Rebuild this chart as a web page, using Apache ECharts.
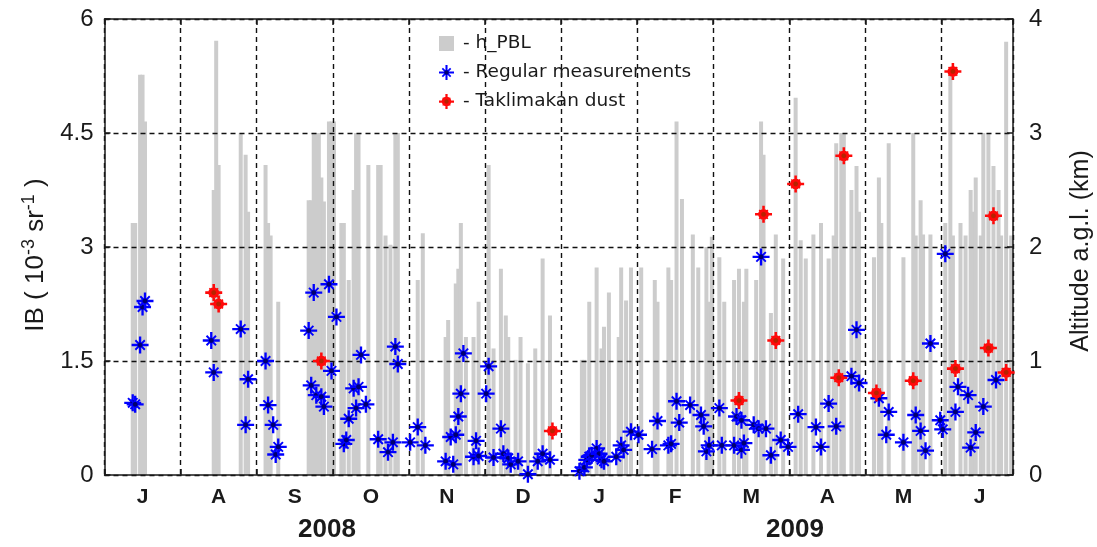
<!DOCTYPE html>
<html>
<head>
<meta charset="utf-8">
<script src="https://cdn.jsdelivr.net/npm/echarts/dist/echarts.min.js"></script>
<style>
  html, body { margin: 0; padding: 0; background: #fff; }
  #chart { width: 1097px; height: 547px; }
</style>
</head>
<body>
<div id="chart"></div>
<script>
// Month letters (Jul 2008 .. Jun 2009) and year captions
const monthLabels = ['J', 'A', 'S', 'O', 'N', 'D', 'J', 'F', 'M', 'A', 'M', 'J'];
const yearLabels = ['2008', '2009'];

// Planetary boundary layer height, km a.g.l.
const pblHeight = [
  ['2008-07-12', 2.21], ['2008-07-13', 2.21], ['2008-07-15', 3.51], ['2008-07-16', 3.51], ['2008-07-17', 3.10],
  ['2008-08-14', 2.50], ['2008-08-15', 3.81], ['2008-08-16', 2.72], ['2008-08-25', 3.00], ['2008-08-27', 2.81], ['2008-08-28', 2.31],
  ['2008-09-04', 2.72], ['2008-09-05', 2.21], ['2008-09-06', 2.10], ['2008-09-09', 1.52],
  ['2008-09-21', 2.41], ['2008-09-22', 2.41], ['2008-09-23', 3.00], ['2008-09-24', 3.00],
  ['2008-09-25', 3.00], ['2008-09-26', 2.61], ['2008-09-27', 2.40], ['2008-09-29', 3.10], ['2008-09-30', 3.10],
  ['2008-10-01', 3.10], ['2008-10-04', 2.21], ['2008-10-05', 2.21], ['2008-10-07', 1.71], ['2008-10-09', 2.50], ['2008-10-10', 3.00],
  ['2008-10-11', 3.00], ['2008-10-15', 2.72], ['2008-10-19', 2.72], ['2008-10-20', 2.72], ['2008-10-22', 2.10], ['2008-10-24', 2.02],
  ['2008-10-26', 3.00], ['2008-10-27', 3.00],
  ['2008-11-04', 1.71], ['2008-11-06', 2.12], ['2008-11-15', 1.21], ['2008-11-16', 1.36], ['2008-11-19', 1.68], ['2008-11-20', 1.81],
  ['2008-11-21', 2.21], ['2008-11-23', 1.21], ['2008-11-26', 1.21], ['2008-11-28', 1.52],
  ['2008-12-02', 2.72], ['2008-12-04', 1.11], ['2008-12-07', 1.81], ['2008-12-09', 1.40], ['2008-12-10', 1.21], ['2008-12-13', 1.01],
  ['2008-12-15', 1.21], ['2008-12-18', 0.98], ['2008-12-21', 1.11], ['2008-12-24', 1.90], ['2008-12-27', 1.40],
  ['2009-01-09', 1.01], ['2009-01-10', 1.01], ['2009-01-12', 1.52], ['2009-01-15', 1.82], ['2009-01-17', 1.11], ['2009-01-18', 1.30],
  ['2009-01-20', 1.60], ['2009-01-24', 1.21], ['2009-01-25', 1.82], ['2009-01-27', 1.53], ['2009-01-29', 1.82],
  ['2009-02-02', 1.82], ['2009-02-07', 1.71], ['2009-02-08', 1.52], ['2009-02-12', 1.82], ['2009-02-13', 1.71], ['2009-02-15', 3.10],
  ['2009-02-17', 2.42], ['2009-02-21', 2.11], ['2009-02-23', 1.82], ['2009-02-26', 2.00], ['2009-02-27', 1.52], ['2009-02-28', 2.09],
  ['2009-03-03', 1.91], ['2009-03-05', 1.52], ['2009-03-09', 1.71], ['2009-03-11', 1.81], ['2009-03-13', 1.52], ['2009-03-14', 1.81],
  ['2009-03-18', 1.71], ['2009-03-20', 3.10], ['2009-03-21', 2.81], ['2009-03-24', 1.42], ['2009-03-26', 2.11], ['2009-03-29', 1.90],
  ['2009-04-03', 3.31], ['2009-04-05', 2.06], ['2009-04-07', 1.90], ['2009-04-10', 2.11], ['2009-04-13', 2.21], ['2009-04-16', 1.90],
  ['2009-04-18', 2.10], ['2009-04-19', 2.91], ['2009-04-21', 3.00], ['2009-04-22', 3.00], ['2009-04-25', 2.50], ['2009-04-27', 2.71],
  ['2009-04-28', 2.31],
  ['2009-05-04', 1.91], ['2009-05-06', 2.61], ['2009-05-07', 2.21], ['2009-05-10', 2.91], ['2009-05-16', 1.91], ['2009-05-20', 3.00],
  ['2009-05-21', 2.10], ['2009-05-23', 2.41], ['2009-05-24', 2.11], ['2009-05-27', 2.11],
  ['2009-06-02', 2.21], ['2009-06-04', 3.54], ['2009-06-05', 2.10], ['2009-06-08', 2.21], ['2009-06-10', 2.10], ['2009-06-12', 2.50],
  ['2009-06-13', 2.31], ['2009-06-14', 2.61], ['2009-06-16', 2.10], ['2009-06-17', 3.00], ['2009-06-19', 3.00], ['2009-06-21', 2.71],
  ['2009-06-23', 2.50], ['2009-06-24', 2.10], ['2009-06-26', 3.80], ['2009-06-28', 2.10]
];

// Integrated backscatter, 10^-3 sr^-1, regular measurement days
const regularIB = [
  ['2008-07-12', 0.95], ['2008-07-13', 0.93], ['2008-07-15', 1.71], ['2008-07-16', 2.21], ['2008-07-17', 2.29],
  ['2008-08-13', 1.77], ['2008-08-14', 1.35], ['2008-08-25', 1.92], ['2008-08-27', 0.66], ['2008-08-28', 1.26],
  ['2008-09-04', 1.50], ['2008-09-05', 0.92], ['2008-09-07', 0.66], ['2008-09-08', 0.27], ['2008-09-09', 0.37],
  ['2008-09-21', 1.90], ['2008-09-22', 1.18], ['2008-09-23', 2.40], ['2008-09-24', 1.05], ['2008-09-26', 1.03],
  ['2008-09-27', 0.90], ['2008-09-29', 2.51], ['2008-09-30', 1.37],
  ['2008-10-02', 2.08], ['2008-10-05', 0.41], ['2008-10-06', 0.46], ['2008-10-07', 0.74], ['2008-10-09', 1.14],
  ['2008-10-10', 0.88], ['2008-10-11', 1.16], ['2008-10-12', 1.58], ['2008-10-14', 0.93], ['2008-10-19', 0.47],
  ['2008-10-23', 0.30], ['2008-10-25', 0.43], ['2008-10-26', 1.69], ['2008-10-27', 1.46],
  ['2008-11-01', 0.43], ['2008-11-04', 0.63], ['2008-11-07', 0.39], ['2008-11-15', 0.18], ['2008-11-17', 0.50],
  ['2008-11-18', 0.14], ['2008-11-19', 0.53], ['2008-11-20', 0.77], ['2008-11-21', 1.07], ['2008-11-22', 1.60],
  ['2008-11-26', 0.24], ['2008-11-27', 0.45], ['2008-11-28', 0.25],
  ['2008-12-01', 1.07], ['2008-12-02', 1.43], ['2008-12-04', 0.23], ['2008-12-07', 0.61], ['2008-12-08', 0.28],
  ['2008-12-10', 0.22], ['2008-12-11', 0.14], ['2008-12-14', 0.18], ['2008-12-18', 0.01], ['2008-12-22', 0.18],
  ['2008-12-24', 0.28], ['2008-12-27', 0.20],
  ['2009-01-08', 0.05], ['2009-01-10', 0.10], ['2009-01-11', 0.20], ['2009-01-12', 0.24], ['2009-01-13', 0.26],
  ['2009-01-15', 0.35], ['2009-01-16', 0.28], ['2009-01-17', 0.20], ['2009-01-18', 0.18], ['2009-01-23', 0.24],
  ['2009-01-25', 0.39], ['2009-01-26', 0.33], ['2009-01-29', 0.57],
  ['2009-02-01', 0.53], ['2009-02-06', 0.34], ['2009-02-08', 0.71], ['2009-02-12', 0.39], ['2009-02-13', 0.41],
  ['2009-02-15', 0.97], ['2009-02-16', 0.69], ['2009-02-20', 0.92], ['2009-02-24', 0.79], ['2009-02-25', 0.64],
  ['2009-02-26', 0.31], ['2009-02-27', 0.39],
  ['2009-03-03', 0.88], ['2009-03-04', 0.39], ['2009-03-09', 0.39], ['2009-03-10', 0.77], ['2009-03-12', 0.72],
  ['2009-03-12', 0.33], ['2009-03-13', 0.42], ['2009-03-17', 0.66], ['2009-03-19', 0.61], ['2009-03-20', 2.87],
  ['2009-03-22', 0.61], ['2009-03-24', 0.26], ['2009-03-28', 0.46], ['2009-03-31', 0.37],
  ['2009-04-04', 0.80], ['2009-04-11', 0.63], ['2009-04-13', 0.37], ['2009-04-16', 0.94], ['2009-04-19', 0.64],
  ['2009-04-25', 1.30], ['2009-04-27', 1.91], ['2009-04-28', 1.21],
  ['2009-05-06', 1.01], ['2009-05-09', 0.53], ['2009-05-10', 0.83], ['2009-05-16', 0.43], ['2009-05-21', 0.79],
  ['2009-05-23', 0.58], ['2009-05-25', 0.32], ['2009-05-27', 1.73], ['2009-05-31', 0.72],
  ['2009-06-01', 0.60], ['2009-06-02', 2.91], ['2009-06-06', 0.83], ['2009-06-07', 1.16], ['2009-06-11', 1.05],
  ['2009-06-12', 0.36], ['2009-06-14', 0.56], ['2009-06-17', 0.90], ['2009-06-22', 1.25]
];

// Integrated backscatter on Taklimakan dust days
const dustIB = [
  ['2008-08-14', 2.40], ['2008-08-16', 2.25], ['2008-09-26', 1.50], ['2008-12-28', 0.58],
  ['2009-03-11', 0.98], ['2009-03-21', 3.43], ['2009-03-26', 1.77],
  ['2009-04-03', 3.83], ['2009-04-20', 1.28], ['2009-04-22', 4.20],
  ['2009-05-05', 1.08], ['2009-05-20', 1.24],
  ['2009-06-05', 5.31], ['2009-06-06', 1.40], ['2009-06-19', 1.67], ['2009-06-21', 3.41], ['2009-06-26', 1.35]
];

// Date string -> position in months counted from 1 July 2008
function monthPos(s) {
  const [y, m, d] = s.split('-').map(Number);
  const days = new Date(y, m, 0).getDate();
  return (y - 2008) * 12 + (m - 7) + (d - 0.5) / days;
}
const toXY = arr => arr.map(([d, v]) => [monthPos(d), v]);

const FONT = 'Liberation Sans, Arial, sans-serif';
const LEGEND_FONT = 'DejaVu Sans, Verdana, sans-serif';
const INK = '#1a1a1a';
const dashed = { color: '#111', width: 1.4, type: [5, 4] };

// 8-armed asterisk with a dark hub
const starPath = 'path://M0 6.9H16V9.1H0Z M6.9 0H9.1V16H6.9Z ' +
  'M4.2 2.9L13.1 11.8L11.8 13.1L2.9 4.2Z M11.8 2.9L13.1 4.2L4.2 13.1L2.9 11.8Z ' +
  'M5.4 8A2.6 2.6 0 1 1 10.6 8A2.6 2.6 0 1 1 5.4 8Z';
// plus sign on a filled disc
const dustPath = 'path://M0 6.8H16V9.2H0Z M6.8 0H9.2V16H6.8Z ' +
  'M4.4 3.4L12.6 11.6L11.6 12.6L3.4 4.4Z M11.6 3.4L12.6 4.4L4.4 12.6L3.4 11.6Z ' +
  'M2.9 8A5.1 5.1 0 1 1 13.1 8A5.1 5.1 0 1 1 2.9 8Z';

const hub = (inner, outer) => ({
  type: 'radial', x: 0.5, y: 0.5, r: 0.5,
  colorStops: [
    { offset: 0, color: inner }, { offset: 0.22, color: inner },
    { offset: 0.34, color: outer }, { offset: 1, color: outer }
  ]
});

const X_MIN = 0, X_MAX = 11.94;

const chart = echarts.init(document.getElementById('chart'), null, { renderer: 'canvas' });
chart.setOption({
  animation: false,
  backgroundColor: '#fff',
  grid: { left: 104.5, right: 84, top: 19, bottom: 72, containLabel: false, outerBoundsMode: 'none' },
  legend: {
    orient: 'vertical', left: 434, top: 29,
    itemWidth: 15, itemHeight: 15, itemGap: 10,
    formatter: name => '- ' + name,
    textStyle: { fontFamily: LEGEND_FONT, fontSize: 18.5, color: INK, padding: [0, 0, 0, 4] },
    data: [
      { name: 'h_PBL', icon: 'rect' },
      { name: 'Regular measurements' },
      { name: 'Taklimakan dust' }
    ]
  },
  xAxis: [
    {
      type: 'value', min: X_MIN, max: X_MAX, interval: 1, position: 'bottom', z: 3,
      axisLine: { show: true, onZero: false, lineStyle: { color: INK, width: 1.5 } },
      axisTick: { show: true, inside: true, length: 6, lineStyle: { color: INK, width: 1.5 } },
      axisLabel: { show: false },
      splitLine: { show: true, lineStyle: dashed }
    },
    {
      type: 'value', min: X_MIN, max: X_MAX, interval: 0.5, position: 'bottom', z: 3,
      axisLine: { show: false }, axisTick: { show: false }, splitLine: { show: false },
      axisLabel: {
        show: true, margin: 12, fontFamily: FONT, fontSize: 21, fontWeight: 'bold', color: INK,
        showMinLabel: true, showMaxLabel: true,
        formatter: v => {
          const k = Math.round(v * 2);
          return (k % 2 === 1 && Math.abs(v * 2 - k) < 1e-6) ? monthLabels[(k - 1) / 2] : '';
        }
      }
    },
    {
      type: 'value', min: X_MIN, max: X_MAX, interval: 1, position: 'top', z: 3,
      axisLine: { show: true, onZero: false, lineStyle: { color: INK, width: 1.5 } },
      axisTick: { show: true, inside: true, length: 6, lineStyle: { color: INK, width: 1.5 } },
      axisLabel: { show: false }, splitLine: { show: false }
    }
  ],
  yAxis: [
    {
      type: 'value', min: 0, max: 6, interval: 1.5, position: 'left', z: 3,
      name: '{a|IB ( 10}{s|-3}{a| sr}{s|-1}{a| )}',
      nameLocation: 'middle', nameGap: 50, nameRotate: 90,
      nameTextStyle: {
        padding: [0, 16, 0, 0],
        rich: {
          a: { fontFamily: FONT, fontSize: 26, color: INK, lineHeight: 32 },
          s: { fontFamily: FONT, fontSize: 18, color: INK, lineHeight: 18, verticalAlign: 'top' }
        }
      },
      axisLine: { show: true, onZero: false, lineStyle: { color: INK, width: 1.5 } },
      axisTick: { show: true, inside: true, length: 6, lineStyle: { color: INK, width: 1.5 } },
      axisLabel: { margin: 11, fontFamily: FONT, fontSize: 24, color: INK },
      splitLine: { show: true, lineStyle: dashed }
    },
    {
      type: 'value', min: 0, max: 4, interval: 1, position: 'right', z: 3,
      name: 'Altitude a.g.l. (km)',
      nameLocation: 'middle', nameGap: 56, nameRotate: 90,
      nameTextStyle: { fontFamily: FONT, fontSize: 25, color: INK, padding: [0, 8, 0, 0] },
      axisLine: { show: true, onZero: false, lineStyle: { color: INK, width: 1.5 } },
      axisTick: { show: true, inside: true, length: 6, lineStyle: { color: INK, width: 1.5 } },
      axisLabel: { margin: 16, fontFamily: FONT, fontSize: 24, color: INK },
      splitLine: { show: false }
    }
  ],
  graphic: yearLabels.map((t, i) => ({
    type: 'text', x: i === 0 ? 327 : 795, y: 530, z: 10,
    style: { text: t, align: 'center', verticalAlign: 'middle', fontFamily: FONT, fontSize: 26, fontWeight: 'bold', fill: INK }
  })),
  series: [
    {
      name: 'h_PBL', type: 'bar', xAxisIndex: 0, yAxisIndex: 1, z: 1,
      barWidth: 4, itemStyle: { color: '#cccccc' },
      data: toXY(pblHeight)
    },
    {
      name: 'Regular measurements', type: 'scatter', xAxisIndex: 0, yAxisIndex: 0, z: 5,
      symbol: starPath, symbolSize: 17,
      itemStyle: { color: hub('#000070', '#0000ff'), opacity: 1 },
      data: toXY(regularIB)
    },
    {
      name: 'Taklimakan dust', type: 'scatter', xAxisIndex: 0, yAxisIndex: 0, z: 6,
      symbol: dustPath, symbolSize: 17,
      itemStyle: { color: hub('#b82200', '#ff0a0a'), opacity: 1 },
      data: toXY(dustIB)
    }
  ]
});
</script>
</body>
</html>
